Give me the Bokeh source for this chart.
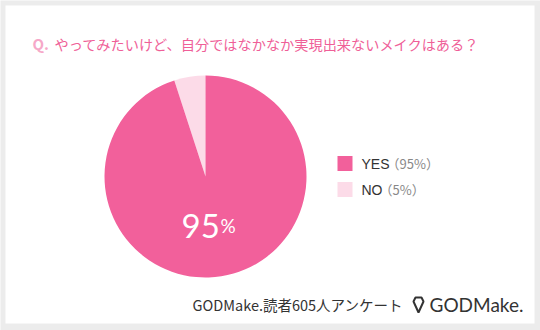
import math
from bokeh.plotting import figure
from bokeh.models import Range1d, ColumnDataSource
from bokeh.core.properties import value
from bokeh.embed import file_html
from bokeh.resources import INLINE

# ---- data ----
categories = ["YES", "NO"]
percents = [95, 5]
pct_labels = ["（95%）", "（5%）"]
colors = ["#f2609b", "#fcdbe8"]
title_q = "Q."
title_text = "やってみたいけど、自分ではなかなか実現出来ないメイクはある？"
center_big = "95"
center_small = "%"
footer_text = "GODMake.読者605人アンケート"
logo_text = "GODMake."

W, H = 540, 330
JP = value("Noto Sans CJK JP")

p = figure(width=W, height=H, x_range=Range1d(0, W), y_range=Range1d(0, H),
           output_backend="svg", toolbar_location=None, min_border=0,
           background_fill_color="#ececec", border_fill_color="#ececec")
p.axis.visible = False
p.grid.visible = False
p.outline_line_color = None

def Y(y):
    return H - y

# white panel
p.quad(left=[5], right=[534], top=[Y(5)], bottom=[Y(323)], fill_color="white", line_color=None)

# title
p.text(x=[32], y=[Y(43)], text=[title_q], text_font=JP, text_font_size="15px",
       text_color="#f6a8c8", text_baseline="middle", text_align="left", text_font_style="bold")
p.text(x=[54], y=[Y(43)], text=[title_text], text_font=JP, text_font_size="14.2px",
       text_color="#ef5f98", text_baseline="middle", text_align="left")

# pie: NO slice counter-clockwise from 12 o'clock, YES fills the rest
total = sum(percents)
order = [1, 0]
start = math.pi / 2
starts, ends, cols = [], [], []
for i in order:
    span = percents[i] / total * 2 * math.pi
    starts.append(start)
    ends.append(start + span)
    cols.append(colors[i])
    start += span
src = ColumnDataSource(dict(x=[205] * len(order), y=[Y(176)] * len(order),
                            s=starts, e=ends, c=cols))
p.wedge(x="x", y="y", radius=101, radius_units="screen", start_angle="s", end_angle="e",
        direction="anticlock", fill_color="c", line_color=None, source=src)

# center label
p.text(x=[181], y=[Y(225)], text=[center_big], text_font=value("Lato"), text_font_size="33px",
       text_color="white", text_baseline="alphabetic", text_align="left")
p.text(x=[220], y=[Y(225)], text=[center_small], text_font=value("Lato"), text_font_size="19px",
       text_color="white", text_baseline="alphabetic", text_align="left")

# legend
leg_y = [163, 189]
p.rect(x=[344.5] * 2, y=[Y(v) for v in leg_y], width=15, height=15, fill_color=colors,
       line_color=None)
p.text(x=[361] * 2, y=[Y(v) for v in leg_y], text=categories, text_font=value("Liberation Sans"),
       text_font_size="14px", text_color="#333333", text_baseline="middle", text_align="left")
p.text(x=[386, 379], y=[Y(v) for v in leg_y], text=pct_labels, text_font=JP,
       text_font_size="13px", text_color="#888888", text_baseline="middle", text_align="left")

# footer
p.text(x=[192], y=[Y(304)], text=[footer_text], text_font=JP, text_font_size="14.5px",
       text_color="#333333", text_baseline="middle", text_align="left")
# logo icon (diamond pin)
ix, iy = 418, 304
p.patch(x=[ix - 5, ix - 3, ix + 3, ix + 5, ix], y=[Y(iy - 3), Y(iy - 7), Y(iy - 7), Y(iy - 3), Y(iy + 8)],
        fill_color=None, line_color="#333333", line_width=2)
p.text(x=[429], y=[Y(304)], text=[logo_text], text_font=value("Lato"), text_font_size="19px",
       text_color="#333333", text_baseline="middle", text_align="left")

open("out.html", "w").write(file_html(p, INLINE))
